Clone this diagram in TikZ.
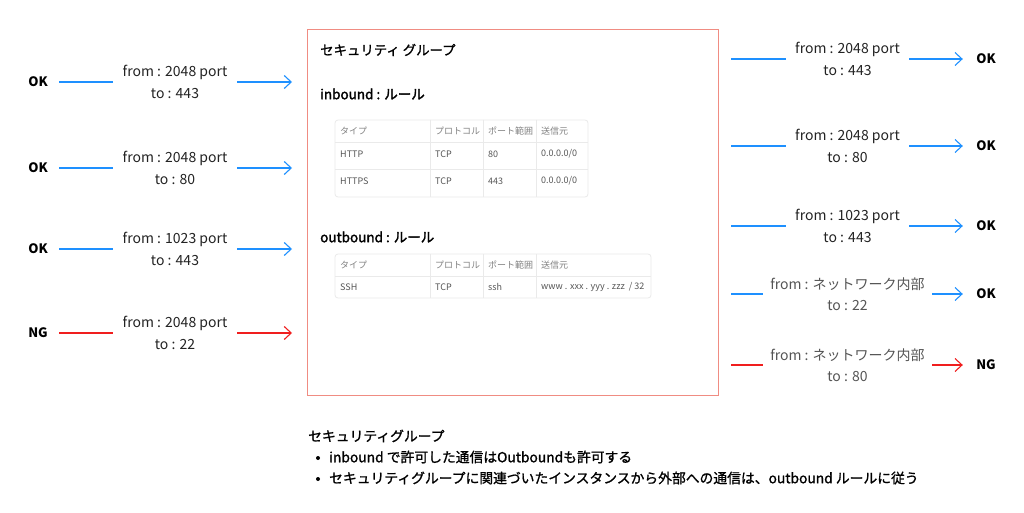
\documentclass[tikz,border=0pt]{standalone}
\usepackage{fontspec}
\setmainfont{Noto Sans CJK JP}
\newfontfamily\semib[FakeBold=1.1]{Noto Sans CJK JP}
\newfontfamily\strongb[FakeBold=2]{Noto Sans CJK JP}
\usetikzlibrary{arrows.meta}
\definecolor{okblue}{RGB}{30,144,255}
\definecolor{ngred}{RGB}{240,30,30}
\definecolor{boxred}{RGB}{240,140,130}
\definecolor{tgrid}{RGB}{234,234,234}
\definecolor{ttext}{RGB}{85,85,85}
\definecolor{thead}{RGB}{130,130,130}
\definecolor{lbl}{RGB}{35,35,35}
\definecolor{lblgray}{RGB}{85,85,85}
\begin{document}
\begin{tikzpicture}[x=1pt,y=-1pt,
  status/.style={font=\fontsize{13}{15}\selectfont\bfseries, inner sep=0pt, minimum height=14pt},
  portlbl/.style={font=\fontsize{14}{21.5}\selectfont, text=lbl, align=center, inner sep=0pt, minimum height=20pt},
  okline/.style={draw=okblue, line width=1.1pt},
  ngline/.style={draw=ngred, line width=1.1pt},
  tip/.style={-{Straight Barb[length=7pt,width=13pt,line width=1.1pt]}},
  tcell/.style={font=\fontsize{9}{10}\selectfont, text=ttext, anchor=west, inner sep=0pt},
  thcell/.style={font=\fontsize{9}{10}\selectfont, text=thead, anchor=west, inner sep=0pt},
  tline/.style={draw=tgrid, line width=0.8pt},
  heading/.style={font=\fontsize{13.5}{16}\strongb, anchor=west, inner sep=0pt},
  note/.style={font=\fontsize{13.8}{16}\semib, anchor=west, inner sep=0pt},
  bulletdot/.style={circle, fill=black, inner sep=0pt, minimum size=4pt}]
\useasboundingbox[fill=white] (0,0) rectangle (1024,513);

% security group box
\node (sg) [draw=boxred, line width=0.9pt, minimum width=411pt, minimum height=366pt, anchor=north west, inner sep=0pt] at (307,29) {};
\node (sgtitle) [note, font=\fontsize{13.4}{16}\semib] at (320,50) {セキュリティ グループ};
\node (inh) [heading] at (320,94) {inbound : ルール};
\node (outh) [heading] at (320,237) {outbound : ルール};

% inbound table
\draw[tline, rounded corners=3pt] (335,120) rectangle (588,197);
\draw[tline] (335,142) -- (588,142) (335,169) -- (588,169)
  (430,120) -- (430,197) (483,120) -- (483,197) (536,120) -- (536,197);
\node (ih1) [thcell] at (340,131) {タイプ};
\node (ih2) [thcell] at (435,131) {プロトコル};
\node (ih3) [thcell] at (488,131) {ポート範囲};
\node (ih4) [thcell] at (541,131) {送信元};
\node (ia1) [tcell] at (340,154) {HTTP};
\node (ia2) [tcell] at (435,154) {TCP};
\node (ia3) [tcell] at (488,154) {80};
\node (ia4) [tcell] at (541,154) {0.0.0.0/0};
\node (ib1) [tcell] at (340,181) {HTTPS};
\node (ib2) [tcell] at (435,181) {TCP};
\node (ib3) [tcell] at (488,181) {443};
\node (ib4) [tcell] at (541,181) {0.0.0.0/0};

% outbound table
\draw[tline, rounded corners=3pt] (335,254) rectangle (651,298);
\draw[tline] (335,276) -- (651,276)
  (430,254) -- (430,298) (483,254) -- (483,298) (536,254) -- (536,298);
\node (oh1) [thcell] at (340,265) {タイプ};
\node (oh2) [thcell] at (435,265) {プロトコル};
\node (oh3) [thcell] at (488,265) {ポート範囲};
\node (oh4) [thcell] at (541,265) {送信元};
\node (oa1) [tcell] at (340,287) {SSH};
\node (oa2) [tcell] at (435,287) {TCP};
\node (oa3) [tcell] at (488,287) {ssh};
\node (oa4) [tcell] at (541,287) {www . xxx . yyy . zzz \ / 32};

% left (inbound) flows
\node (lok1) [status, minimum width=42pt] at (38,82) {OK};
\node (lok2) [status, minimum width=42pt] at (38,168) {OK};
\node (lok3) [status, minimum width=42pt] at (38,249) {OK};
\node (lng4) [status, minimum width=42pt] at (38,333) {NG};
\node (ll1) [portlbl, minimum width=124pt] at (175,82) {from : 2048 port\\to : 443};
\node (ll2) [portlbl, minimum width=124pt] at (175,168) {from : 2048 port\\to : 80};
\node (ll3) [portlbl, minimum width=124pt] at (175,249) {from : 1023 port\\to : 443};
\node (ll4) [portlbl, minimum width=124pt] at (175,333) {from : 2048 port\\to : 22};
\coordinate (le1) at (292,82);
\coordinate (le2) at (292,168);
\coordinate (le3) at (292,249);
\coordinate (le4) at (292,333);
\draw[okline] (lok1.east) -- (lok1.east -| ll1.west);
\draw[okline, tip] (ll1.east) -- (le1);
\draw[okline] (lok2.east) -- (lok2.east -| ll2.west);
\draw[okline, tip] (ll2.east) -- (le2);
\draw[okline] (lok3.east) -- (lok3.east -| ll3.west);
\draw[okline, tip] (ll3.east) -- (le3);
\draw[ngline] (lng4.east) -- (lng4.east -| ll4.west);
\draw[ngline, tip] (ll4.east) -- (le4);

% right (outbound) flows
\coordinate (rs1) at (731,59);
\coordinate (rs2) at (731,146);
\coordinate (rs3) at (731,226);
\coordinate (rs4) at (731,294);
\coordinate (rs5) at (731,365);
\node (rl1) [portlbl, minimum width=123pt] at (847.5,59) {from : 2048 port\\to : 443};
\node (rl2) [portlbl, minimum width=123pt] at (847.5,146) {from : 2048 port\\to : 80};
\node (rl3) [portlbl, minimum width=123pt] at (847.5,226) {from : 1023 port\\to : 443};
\node (rl4) [portlbl, text=lblgray, minimum width=169pt] at (847.5,294) {from : ネットワーク内部\\to : 22};
\node (rl5) [portlbl, text=lblgray, minimum width=169pt] at (847.5,365) {from : ネットワーク内部\\to : 80};
\node (rok1) [status, minimum width=46pt] at (986,59) {OK};
\node (rok2) [status, minimum width=46pt] at (986,146) {OK};
\node (rok3) [status, minimum width=46pt] at (986,226) {OK};
\node (rok4) [status, minimum width=46pt] at (986,294) {OK};
\node (rng5) [status, minimum width=46pt] at (986,365) {NG};
\draw[okline] (rs1) -- (rs1 -| rl1.west);
\draw[okline, tip] (rl1.east) -- (rok1.west);
\draw[okline] (rs2) -- (rs2 -| rl2.west);
\draw[okline, tip] (rl2.east) -- (rok2.west);
\draw[okline] (rs3) -- (rs3 -| rl3.west);
\draw[okline, tip] (rl3.east) -- (rok3.west);
\draw[okline] (rs4) -- (rs4 -| rl4.west);
\draw[okline, tip] (rl4.east) -- (rok4.west);
\draw[ngline] (rs5) -- (rs5 -| rl5.west);
\draw[ngline, tip] (rl5.east) -- (rng5.west);

% notes
\node (nt) [note] at (308,436) {セキュリティグループ};
\node (nb1) [bulletdot] at (318,458) {};
\node (n1) [note] at (329,457) {inbound で許可した通信はOutboundも許可する};
\node (nb2) [bulletdot] at (318,479) {};
\node (n2) [note] at (329,478) {セキュリティグループに関連づいたインスタンスから外部への通信は、outbound ルールに従う};
\end{tikzpicture}
\end{document}
